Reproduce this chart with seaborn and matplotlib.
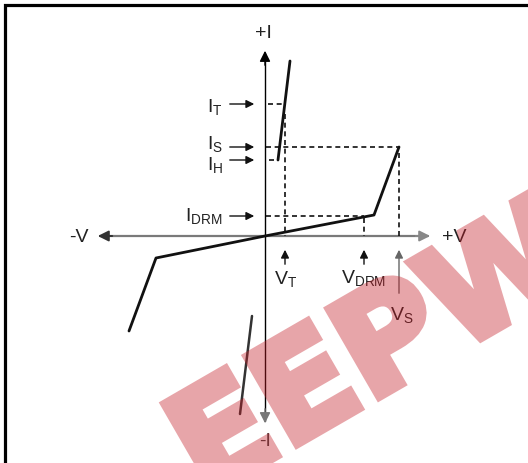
import numpy as np
import pandas as pd
import matplotlib
matplotlib.use("Agg")
import matplotlib.pyplot as plt
import matplotlib.patheffects as pe
import seaborn as sns
from matplotlib.patches import Rectangle

# ---- data (arbitrary V / I units) ----
main_curve_v = [-136, -109, 0, 109, 134]
main_curve_i = [-95, -22, 0, 21, 89]
on_pos_v = [13, 25]
on_pos_i = [76, 175]
on_neg_v = [-13, -25]
on_neg_i = [-80, -178]

I_T, I_S, I_H, I_DRM = 132, 89, 76, 20
V_T, V_DRM, V_S = 20, 99, 134

current_labels = ["I_T", "I_S", "I_H", "I_{DRM}"]
current_levels = [I_T, I_S, I_H, I_DRM]
voltage_labels = ["V_T", "V_{DRM}", "V_S"]
voltage_levels = [V_T, V_DRM, V_S]

sns.set_theme(style="white")
plt.rcParams["font.family"] = ["Liberation Sans", "DejaVu Sans"]
plt.rcParams["mathtext.default"] = "regular"

fig = plt.figure(figsize=(5.28, 4.64), dpi=100)
ax = fig.add_axes([0, 0, 1, 1])
ax.set_xlim(-265, 263)
ax.set_ylim(-227, 237)
ax.axis("off")

# frame (top and left edges visible)
fig.add_artist(Rectangle((5 / 528, -0.1), 1.2, (1 - 6 / 464) + 0.1,
                         transform=fig.transFigure, fill=False, lw=2.3, ec="black"))

# axes arrows
ax.plot([-165, 163], [0, 0], color="#7a7a7a", lw=1.6, zorder=2)
ax.annotate("", xy=(-170, 0), xytext=(-150, 0),
            arrowprops=dict(arrowstyle="-|>", color="#333333", lw=1.4, mutation_scale=16))
ax.annotate("", xy=(168, 0), xytext=(148, 0),
            arrowprops=dict(arrowstyle="-|>", color="#888888", lw=1.4, mutation_scale=16))
ax.plot([0, 0], [-185, 183], color="black", lw=1.0, zorder=2)
ax.annotate("", xy=(0, 188), xytext=(0, 168),
            arrowprops=dict(arrowstyle="-|>", color="black", lw=1.0, mutation_scale=16))
ax.annotate("", xy=(0, -190), xytext=(0, -170),
            arrowprops=dict(arrowstyle="-|>", color="#777777", lw=1.0, mutation_scale=16))

fs = 14
ax.text(-186, -1, "-V", fontsize=fs, ha="center", va="center", color="#222222")
ax.text(189, -1, "+V", fontsize=fs, ha="center", va="center", color="#222222")
ax.text(-2, 203, "+I", fontsize=fs, ha="center", va="center", color="#222222")
ax.text(0, -205, "-I", fontsize=fs, ha="center", va="center", color="#444444")

# characteristic curve
sns.lineplot(x=main_curve_v, y=main_curve_i, sort=False, estimator=None,
             color="#111111", lw=2.0, ax=ax, zorder=4)
sns.lineplot(x=on_pos_v, y=on_pos_i, sort=False, estimator=None,
             color="#111111", lw=2.0, ax=ax, zorder=4)
sns.lineplot(x=on_neg_v, y=on_neg_i, sort=False, estimator=None,
             color="#333333", lw=1.8, ax=ax, zorder=4)

# dashed guides
dash = dict(color="#111111", lw=1.2, linestyle=(0, (3, 2.2)), zorder=3)
ax.plot([3, V_T], [I_T, I_T], **dash)
ax.plot([V_T, V_T], [I_T - 10, 0], **dash)
ax.plot([1, V_S], [I_S, I_S], **dash)
ax.plot([V_S, V_S], [I_S - 6, 0], **dash)
ax.plot([4, 10], [I_H, I_H], **dash)
ax.plot([1, V_DRM], [I_DRM, I_DRM], **dash)
ax.plot([V_DRM, V_DRM], [I_DRM - 2, 0], **dash)

# current labels with arrows
label_offsets = [7, 1, 9, 4]
for lab, lev, off in zip(current_labels, current_levels, label_offsets):
    ax.annotate("", xy=(-8, lev), xytext=(-38, lev),
                arrowprops=dict(arrowstyle="-|>", color="#111111", lw=1.0, mutation_scale=12))
    ax.text(-42, lev - off, f"${lab}$", fontsize=fs, ha="right", va="baseline", color="#222222")

# voltage labels with arrows
v_label_base = [-47, -46, -83]
v_arrow_start = [-31, -31, -60]
v_label_x = [V_T + 1, V_DRM, V_S + 3]
for lab, lev, base, st, lx in zip(voltage_labels, voltage_levels, v_label_base, v_arrow_start, v_label_x):
    col = "#111111" if lab != "V_S" else "#666666"
    ax.annotate("", xy=(lev, -11), xytext=(lev, st),
                arrowprops=dict(arrowstyle="-|>", color=col, lw=1.0, mutation_scale=12))
    ax.text(lx, base, f"${lab}$", fontsize=fs, ha="center", va="baseline", color="#222222")


# watermark (group transparency so the thick outline does not double up)
def group_alpha(im, dpi):
    im = im.copy()
    im[..., 3] *= 0.4
    return im, 0, 0


wm_color = (197 / 255, 30 / 255, 40 / 255)
wm = fig.text(204 / 528, 1 - 499 / 464, "EEPW", fontsize=100, fontweight="bold",
              family="DejaVu Sans", color=wm_color,
              rotation=30, rotation_mode="anchor", ha="left", va="baseline", zorder=10,
              path_effects=[pe.withStroke(linewidth=6, foreground=wm_color,
                                          joinstyle="miter")])
wm.set_agg_filter(group_alpha)

fig.savefig("out.png", dpi=100)
